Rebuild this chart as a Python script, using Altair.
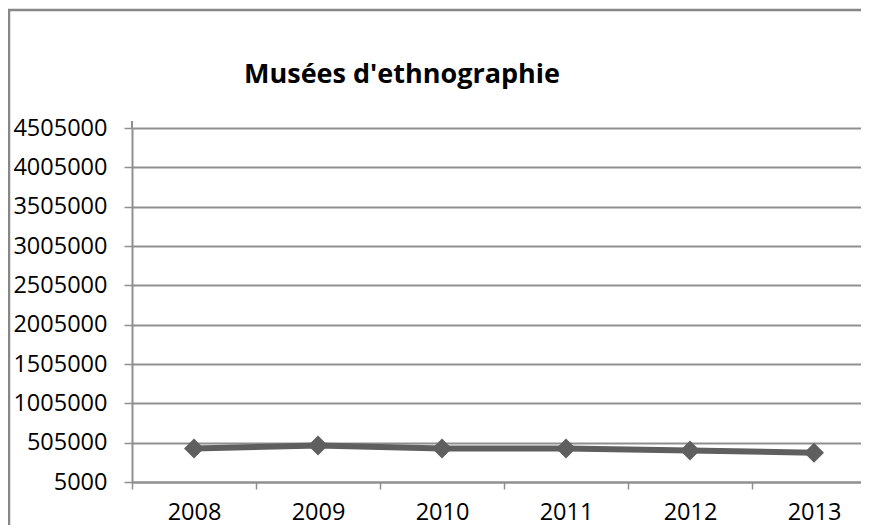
import altair as alt
import pandas as pd

years = ["2008", "2009", "2010", "2011", "2012", "2013"]
visitors = [432000, 470000, 431000, 432000, 406000, 377000]
y_ticks = [5000, 505000, 1005000, 1505000, 2005000, 2505000, 3005000, 3505000, 4005000, 4505000]
title_text = "Musées d'ethnographie"

df = pd.DataFrame({"year": years, "visitors": visitors})

GRID = "#8f8f8f"
LINE = "#5f5f5f"
FONT = "Open Sans"

x_enc = alt.X(
    "year:O",
    sort=years,
    scale=alt.Scale(type="band", range=[0, 744], paddingInner=0, paddingOuter=0),
    axis=alt.Axis(
        title=None,
        tickBand="extent",
        tickSize=7,
        tickColor=GRID,
        tickWidth=1.5,
        domainColor=GRID,
        domainWidth=2,
        labelFont=FONT,
        labelFontSize=23.5,
        labelColor="#000000",
        labelBaseline="alphabetic",
        labelPadding=30,
        labelAngle=0,
        grid=False,
    ),
)
y_enc = alt.Y(
    "visitors:Q",
    scale=alt.Scale(domain=[5000, 4505000], nice=False, zero=False),
    axis=alt.Axis(
        title=None,
        values=y_ticks,
        format="d",
        tickSize=8,
        tickColor=GRID,
        tickWidth=1.5,
        domainColor=GRID,
        domainWidth=2,
        gridColor=GRID,
        gridWidth=2,
        labelFont=FONT,
        labelFontSize=23.5,
        labelColor="#000000",
        labelPadding=17,
    ),
)

line = alt.Chart(df).mark_line(color=LINE, strokeWidth=6).encode(x=x_enc, y=y_enc)
pts = alt.Chart(df).mark_point(
    shape="diamond", filled=True, color=LINE, size=400, opacity=1
).encode(x=x_enc, y=y_enc)

one = pd.DataFrame({"k": [0]})
border_left = alt.Chart(one).mark_rule(stroke="#878787", strokeWidth=2.5).encode(
    x=alt.value(-123), y=alt.value(-119), y2=alt.value(420)
)
border_top = alt.Chart(one).mark_rule(stroke="#878787", strokeWidth=2.5).encode(
    y=alt.value(-118), x=alt.value(-124), x2=alt.value(729)
)
axis_ext = alt.Chart(one).mark_rule(stroke=GRID, strokeWidth=2).encode(
    x=alt.value(0), y=alt.value(-7), y2=alt.value(0)
)

title = alt.Chart(pd.DataFrame({"t": [title_text]})).mark_text(
    font=FONT, fontSize=27, fontWeight="bold", color="#000000",
    align="center", baseline="alphabetic"
).encode(text="t:N", x=alt.value(270), y=alt.value(-45))

chart = (
    alt.layer(border_left, border_top, axis_ext, line, pts, title)
    .properties(
        width=729,
        height=354,
        autosize=alt.AutoSizeParams(type="none"),
        padding={"left": 124, "top": 120, "right": 0, "bottom": 43},
    )
    .configure_view(stroke=None)
)

chart.save("out.html", embed_options={"renderer": "svg", "actions": False})
